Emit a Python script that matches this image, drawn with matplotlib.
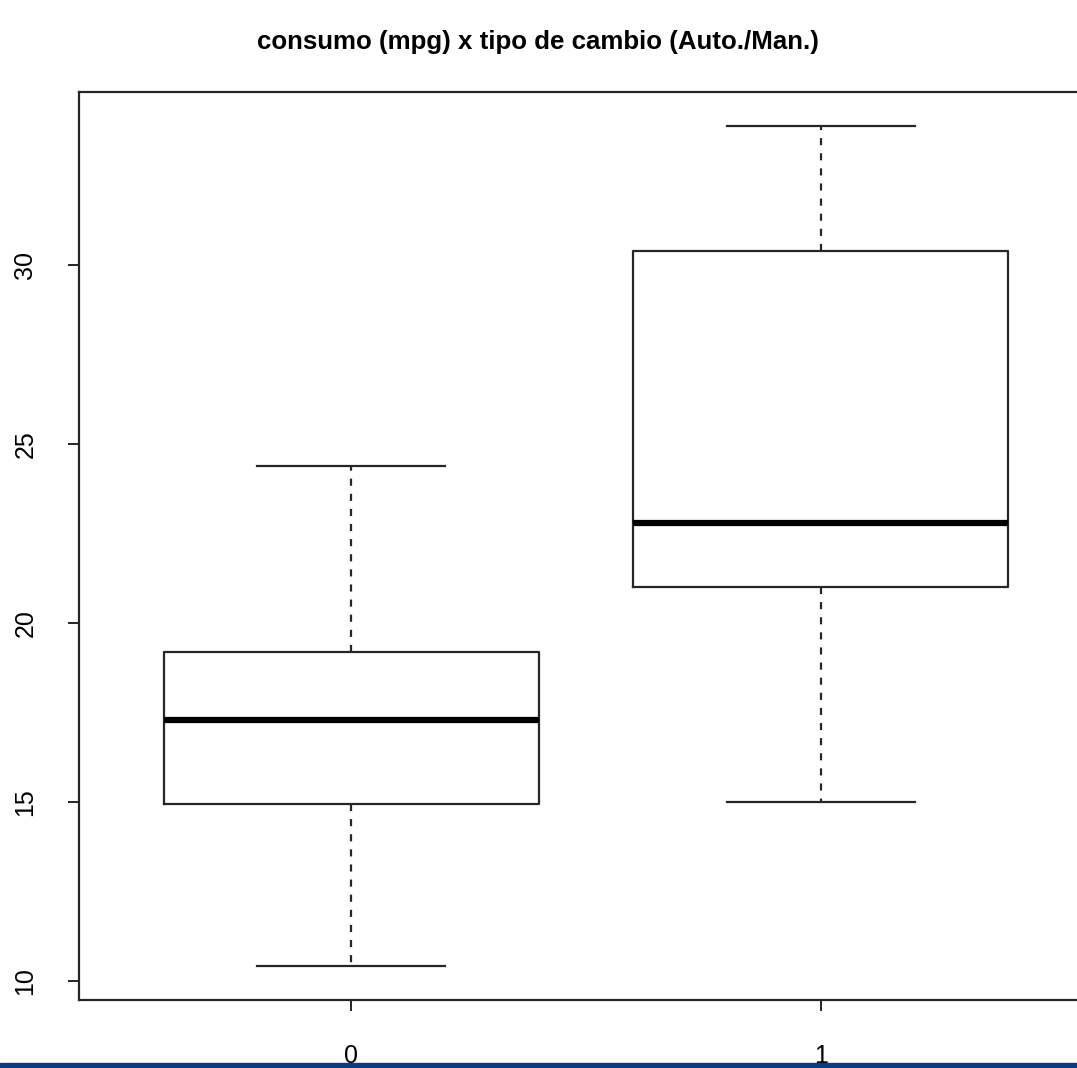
import matplotlib
matplotlib.use('Agg')
import matplotlib.pyplot as plt
from matplotlib.patches import Rectangle

plt.rcParams['font.family'] = ['Liberation Sans', 'DejaVu Sans']

# mpg por tipo de cambio (0 = auto, 1 = manual)
grupos = ['0', '1']
minimo = [10.4, 15.0]
q1 = [14.95, 21.0]
mediana = [17.3, 22.8]
q3 = [19.2, 30.4]
maximo = [24.4, 33.9]

stats = []
for i in range(len(grupos)):
    stats.append({'whislo': minimo[i], 'q1': q1[i], 'med': mediana[i],
                  'q3': q3[i], 'whishi': maximo[i], 'fliers': [], 'label': grupos[i]})

fig = plt.figure(figsize=(10.77, 10.68), dpi=100)
ax = fig.add_axes([79/1077, 68/1068, 1014/1077, 908/1068])

linea = '#262626'
ax.bxp(stats, positions=[1, 2], widths=0.8, showfliers=False,
       boxprops=dict(color=linea, linewidth=1.6),
       whiskerprops=dict(color=linea, linewidth=1.6, linestyle=(0, (3.2, 3.6))),
       capprops=dict(color=linea, linewidth=1.6),
       medianprops=dict(color='black', linewidth=4.5),
       capwidths=0.4)

ax.set_xlim(0.42, 2.58)
ax.set_ylim(9.46, 34.84)
ax.set_yticks([10, 15, 20, 25, 30])
ax.set_yticklabels(['10', '15', '20', '25', '30'], rotation=90, va='center')
ax.tick_params(axis='both', direction='out', length=8, width=1.4, colors=linea,
               labelsize=18, labelcolor='black')
ax.tick_params(axis='y', pad=22)
ax.tick_params(axis='x', pad=24)
for s in ax.spines.values():
    s.set_linewidth(1.6)
    s.set_color(linea)

fig.text(538/1077, 1 - 42/1068, 'consumo (mpg) x tipo de cambio (Auto./Man.)',
         ha='center', va='center', fontsize=18.6, fontweight='bold')

# barra azul inferior
fig.patches.append(Rectangle((0, 0), 1, 5/1068, transform=fig.transFigure,
                             color='#0b3b86', zorder=10))

fig.savefig('out.png', dpi=100)
